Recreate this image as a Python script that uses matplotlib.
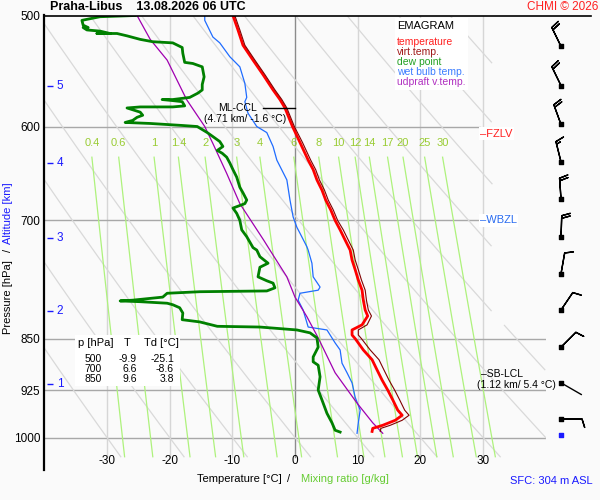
import numpy as np
import matplotlib.pyplot as plt
from matplotlib.lines import Line2D
from matplotlib.patches import Rectangle

plt.rcParams['font.family'] = ['Liberation Sans', 'DejaVu Sans']

# sounding Praha-Libus 13.08.2026 06 UTC
p_t = [500, 512, 525, 538, 551, 565, 574, 582, 594, 600, 616, 634, 644, 655, 666,
       677, 688, 700, 711, 723, 735, 747, 759, 772, 785, 798, 811, 819, 831, 838,
       845, 850, 866, 880, 895, 910, 925, 940, 956, 964, 972, 980, 985, 990]
t = [-9.9, -9.1, -8.3, -6.7, -5.1, -3.5, -2.4, -1.6, -0.8, -0.4, 0.8, 2.1, 2.9, 3.5, 4.3,
     4.9, 5.7, 6.4, 7.2, 8.0, 8.8, 9.1, 9.6, 10.1, 10.7, 10.9, 11.2, 11.6, 10.7, 9.1,
     9.1, 9.6, 10.9, 12.3, 13.1, 13.9, 14.8, 15.6, 16.4, 17.1, 16.0, 14.0, 12.4, 12.3]
tv = [-9.6, -8.8, -8.0, -6.4, -4.8, -3.2, -2.1, -1.3, -0.5, -0.1, 1.2, 2.5, 3.3, 3.9, 4.7,
      5.3, 6.1, 6.8, 7.7, 8.5, 9.3, 9.6, 10.1, 10.6, 11.2, 11.4, 11.7, 12.2, 11.5, 10.1,
      10.1, 10.6, 12.0, 13.4, 14.2, 15.0, 15.9, 16.7, 17.5, 18.2, 17.1, 15.2, 13.7, 13.6]

p_td = [500, 501, 504, 508, 510, 510, 512, 513, 515, 515, 515, 515, 517, 520, 522, 523,
        527, 532, 540, 541, 544, 553, 560, 565, 568, 572, 574, 574, 575, 576, 580, 581,
        581, 581, 582, 586, 589, 591, 594, 596, 597, 599, 600, 603, 606, 610, 615, 620,
        624, 627, 631, 637, 644, 652, 663, 669, 677, 681, 686, 692, 700, 711, 719, 732,
        735, 743, 751, 756, 768, 773, 776, 782, 786, 787, 789, 794, 798, 799, 800, 802,
        804, 808, 815, 824, 827, 833, 834, 838, 842, 849, 862, 876, 883, 888, 905, 925,
        940, 961, 976, 988, 991]
td = [-25.5, -31.1, -34.0, -33.8, -33.0, -33.8, -33.2, -31.1, -29.5, -31.6, -30.0, -28.4,
      -26.8, -24.7, -22.7, -19.5, -18.0, -17.9, -17.6, -16.3, -14.8, -14.5, -14.8, -14.8,
      -15.5, -16.8, -19.5, -21.2, -19.5, -18.0, -17.6, -19.5, -22.0, -24.7, -26.8, -24.7,
      -24.3, -25.2, -25.9, -27.1, -23.1, -17.9, -15.6, -14.8, -14.0, -13.1, -12.0, -11.5,
      -12.4, -11.6, -10.9, -10.4, -9.9, -9.3, -8.8, -8.3, -7.7, -8.0, -9.9, -9.3, -8.8,
      -8.5, -7.7, -6.7, -6.1, -5.6, -4.3, -5.6, -5.9, -4.5, -3.5, -3.2, -4.5, -15.2, -20.4,
      -21.1, -25.9, -27.9, -24.7, -20.4, -19.5, -18.4, -17.9, -18.0, -15.2, -12.4, -5.6,
      0.3, 2.4, 3.5, 3.7, 2.9, 2.9, 3.7, 4.0, 3.7, 4.3, 5.1, 5.9, 6.4, 7.2]

p_tw = [500, 504, 518, 523, 535, 544, 559, 572, 576, 587, 600, 606, 620, 634, 655, 677,
        696, 708, 715, 731, 735, 751, 768, 781, 785, 789, 798, 811, 834, 838, 856, 866,
        885, 899, 914, 936, 956, 976, 993]
tw = [-14.4, -14.4, -13.1, -12.0, -10.4, -8.8, -8.0, -7.7, -8.0, -7.5, -6.1, -4.5, -3.5,
      -2.9, -1.3, -0.8, -0.3, 0.3, 0.8, 1.9, 2.1, 2.7, 2.9, 4.0, 3.7, 0.8, 0.5, 1.3, 2.1,
      5.1, 6.4, 7.2, 7.5, 8.3, 9.1, 9.6, 10.4, 10.1, 9.9]

p_up = [500, 520, 538, 574, 600, 617, 648, 681, 723, 735, 768, 794, 820, 849, 899, 945, 976, 993]
t_up = [-25.2, -23.1, -20.4, -17.3, -14.4, -13.1, -10.9, -8.8, -5.0, -4.0, -1.3, 0.0,
        1.9, 3.7, 6.4, 9.9, 12.4, 14.0]

# wind barbs (direction from, knots)
p_wind = [526, 561, 598, 636, 676, 719, 764, 811, 862, 914, 970]
wdir = [334, 334, 340, 346, 356, 2, 10, 34, 45, 120, 90]
wspd = [20, 20, 20, 15, 20, 20, 10, 10, 10, 2, 10]
p_sfc = 996

tab_p = [500, 700, 850]
tab_t = [-9.9, 6.6, 9.6]
tab_td = [-25.1, -8.6, 3.8]

alt_km = [1, 2, 3, 4, 5]
alt_p = [916, 812, 720, 637, 561]

mix = [0.4, 0.6, 1, 1.4, 2, 3, 4, 6, 8, 10, 12, 14, 17, 20, 25, 30]

p_levels = [500, 600, 700, 850, 925, 1000]

BLUE = '#1a1aff'
W, H = 600, 500


def fx(x):
    return x / W


def fy(y):
    return 1 - y / H


def t_from_w(w, p):
    e = w * p / (622.0 + w)
    a = np.log(e / 6.112)
    return 243.5 * a / (17.67 - a)


fig = plt.figure(figsize=(6, 5), dpi=100, facecolor='#fafafa')
ax = fig.add_axes([fx(44.3), fy(470), 501.4 / W, (470 - 15.5) / H])
ax.set_facecolor('none')
ax.set_yscale('log')
ax.set_xlim(-40, 40)
ax.set_ylim(1054.7, 500)
ax.set_yticks(p_levels)
ax.set_yticklabels([str(p) for p in p_levels], fontsize=8.5)
ax.yaxis.set_minor_locator(plt.NullLocator())
ax.tick_params(axis='y', length=0, pad=3)
ax.set_xticks([])
for s in ['top', 'right', 'bottom']:
    ax.spines[s].set_visible(False)
ax.spines['left'].set_linewidth(1.6)
fig.add_artist(Line2D([fx(44), fx(591)], [fy(15.5)] * 2, color='k', lw=1.2))

p_bot = 1032
# isotherms
for tt in range(-30, 31, 10):
    col = '#8c8c8c' if tt == 0 else '#d6d6d6'
    ax.plot([tt, tt], [500, p_bot], color=col, lw=1, zorder=1)
# isobars
for p in [850, 925, 1000]:
    ax.plot([-40, 40], [p, p], color='#a8a8a8', lw=1, zorder=1)
for p in [600, 700]:
    ax.plot([-40, 29.5], [p, p], color='#a8a8a8', lw=1, zorder=1)

# dry adiabats
pp = np.geomspace(500, p_bot, 300)
for t0 in range(-30, 110, 10):
    ta = (t0 + 273.15) * (pp / 1000.0) ** 0.286 - 273.15
    ok = ((ta <= 31.5) & (pp < 830)) | ((ta <= 40) & (pp >= 830))
    ax.plot(np.where(ok, ta, np.nan), pp, color='#d9d9d9', lw=0.9, zorder=1)

# mixing ratio lines
pm = np.geomspace(631, p_bot, 60)
for w in mix:
    ax.plot(t_from_w(w, pm), pm, color='#aef27c', lw=0.9, zorder=1)
    ax.text(t_from_w(w, 631), 616.4, f'{w:g}', color='#99cc33', fontsize=8,
            ha='center', va='center')

# profiles
ax.plot(tw, p_tw, color='#1f6cff', lw=0.9, zorder=3)
ax.plot(t_up, p_up, color='#a000b0', lw=0.9, zorder=3)
ax.plot(td, p_td, color='#008000', lw=2.0, zorder=4, solid_joinstyle='round')
ax.plot(t, p_t, color='#ff0000', lw=2.0, zorder=4, solid_joinstyle='round')
ax.plot(tv, p_t, color='#800000', lw=0.8, zorder=5)

# temperature labels inside plot
for tt in range(-30, 31, 10):
    ax.text(tt, 1040, str(tt), fontsize=8.5, ha='center', va='center')

# altitude marks
ax.hlines(alt_p, -39.6, -38.6, color=BLUE, lw=1)
for km, p in zip(alt_km, alt_p):
    ax.text(-38.0, p, str(km), color=BLUE, fontsize=8.5, ha='left', va='center')

# levels
ax.plot([-5.1, 0.0], [582, 582], color='k', lw=1, zorder=6)
ax.text(-6.1, 582, 'ML-CCL', fontsize=7.5, ha='right', va='center', zorder=6)
ax.text(-8.0, 592.6, '(4.71 km/ -1.6 °C)', fontsize=7.5, ha='center', va='center', zorder=6)
bb = dict(facecolor='white', edgecolor='none', pad=1.0)
ax.text(29.5, 607, '–FZLV', color='#ff2020', fontsize=8, ha='left', va='center', bbox=bb)
ax.text(29.5, 700, '–WBZL', color='#2a6cf0', fontsize=8, ha='left', va='center', bbox=bb)
ax.text(29.6, 901, '–SB-LCL', color='k', fontsize=7.5, ha='left', va='center')
ax.text(35.3, 918, '(1.12 km/ 5.4 °C)', color='k', fontsize=7.5, ha='center', va='center')

# wind barbs
x_w = (561 - 295) / 6.267
wd = np.radians(wdir)
u = -np.array(wspd) * np.sin(wd)
v = -np.array(wspd) * np.cos(wd)
strong = np.array(wspd) >= 5
pw = np.array(p_wind)
ax.barbs(np.full(strong.sum(), x_w), pw[strong], u[strong], v[strong],
         length=5.5, lw=1, color='k', clip_on=False, zorder=6)
for i in np.where(~strong)[0]:
    stem = 17.0
    ax.annotate('', xy=(x_w, pw[i]),
                xytext=(stem * np.sin(wd[i]), stem * np.cos(wd[i])),
                textcoords='offset points', annotation_clip=False,
                arrowprops=dict(arrowstyle='-', lw=1, color='k', shrinkA=0, shrinkB=0))
ax.scatter(np.full(len(pw), x_w), pw, marker='s', s=6, color='k', clip_on=False, zorder=7)
ax.scatter([x_w], [p_sfc], marker='s', s=6, color=BLUE, clip_on=False, zorder=7)

# legend box
fig.patches.append(Rectangle((fx(395), fy(90)), 73 / W, 72 / H, transform=fig.transFigure,
                             facecolor='white', edgecolor='none', zorder=2))
fig.text(fx(397), fy(26), 'EMAGRAM', fontsize=8, va='center')
leg = [('temperature', '#ff2020'), ('virt.temp.', '#a01818'), ('dew point', '#22a022'),
       ('wet bulb temp.', '#3a7cff'), ('udpraft v.temp.', '#b030c0')]
for i, (name, col) in enumerate(leg):
    fig.text(fx(397), fy(42 + 10 * i), name, color=col, fontsize=7.5, va='center')

# table
fig.patches.append(Rectangle((fx(75), fy(386)), 105 / W, 51 / H, transform=fig.transFigure,
                             facecolor='white', edgecolor='none', zorder=2))
fig.text(fx(78), fy(343), 'p [hPa]', fontsize=8, va='center')
fig.text(fx(127), fy(343), 'T', fontsize=8, va='center', ha='center')
fig.text(fx(144), fy(343), 'Td [°C]', fontsize=8, va='center')
for i, (p, a, b) in enumerate(zip(tab_p, tab_t, tab_td)):
    yy = fy(358.5 + 10 * i)
    fig.text(fx(102), yy, str(p), fontsize=7.5, va='center', ha='right')
    fig.text(fx(137), yy, f'{a:.1f}', fontsize=7.5, va='center', ha='right')
    fig.text(fx(174), yy, f'{b:.1f}', fontsize=7.5, va='center', ha='right')

# titles and axis labels
fig.text(fx(50), fy(7), 'Praha-Libus    13.08.2026 06 UTC', fontsize=9, weight='bold', va='center')
fig.text(fx(598), fy(7), 'CHMI © 2026', color='#ff2020', fontsize=8.5, ha='right', va='center')
fig.text(fx(8), fy(297), 'Pressure [hPa]', rotation=90, fontsize=8, ha='center', va='center')
fig.text(fx(8), fy(250), '/', rotation=90, fontsize=8, ha='center', va='center')
fig.text(fx(8), fy(213), 'Altitude [km]', rotation=90, fontsize=8, ha='center', va='center', color=BLUE)
fig.text(fx(239), fy(479), 'Temperature [°C]', fontsize=8, ha='center', va='center')
fig.text(fx(289), fy(479), '/', fontsize=8, ha='center', va='center')
fig.text(fx(344.5), fy(479), 'Mixing ratio [g/kg]', fontsize=8, ha='center', va='center', color='#66cc33')
fig.text(fx(551), fy(481), 'SFC: 304 m ASL', fontsize=8, ha='center', va='center', color=BLUE)

fig.savefig('out.png', dpi=100, facecolor=fig.get_facecolor())
